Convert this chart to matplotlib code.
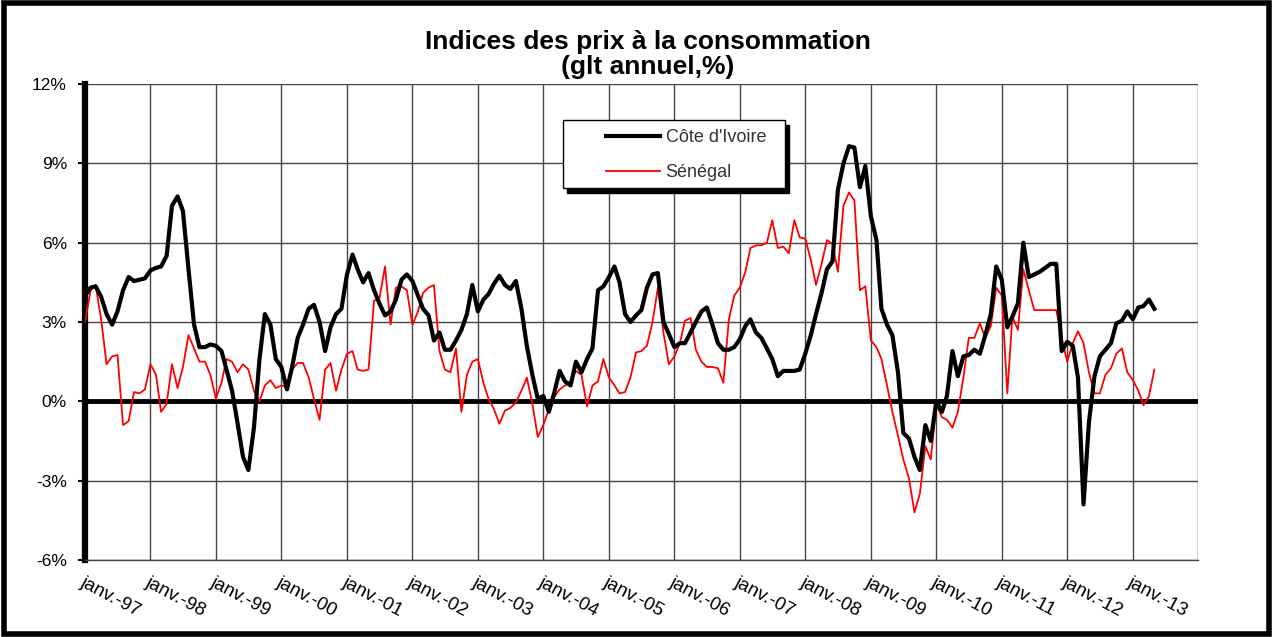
import matplotlib.pyplot as plt
from matplotlib.patches import Rectangle
import pandas as pd

plt.rcParams['font.family'] = ['Liberation Sans', 'DejaVu Sans']

# monthly year-on-year inflation (%), janv. 1997 -> mai 2013
cote_ivoire = [
    4.0, 4.3, 4.35, 3.95, 3.3, 2.9, 3.4, 4.2, 4.7, 4.55, 4.6, 4.65,       # 1997
    4.95, 5.05, 5.1, 5.5, 7.4, 7.75, 7.2, 5.0, 2.9, 2.05, 2.05, 2.15,     # 1998
    2.1, 1.9, 1.2, 0.4, -0.8, -2.1, -2.6, -1.0, 1.6, 3.3, 2.9, 1.6,       # 1999
    1.3, 0.45, 1.3, 2.4, 2.9, 3.5, 3.65, 3.0, 1.9, 2.8, 3.3, 3.5,         # 2000
    4.8, 5.55, 5.0, 4.5, 4.85, 4.2, 3.7, 3.25, 3.4, 3.85, 4.6, 4.8,       # 2001
    4.55, 4.0, 3.5, 3.25, 2.3, 2.6, 1.95, 1.95, 2.3, 2.7, 3.3, 4.4,       # 2002
    3.4, 3.85, 4.05, 4.45, 4.75, 4.4, 4.25, 4.55, 3.5, 2.1, 1.0, 0.1,     # 2003
    0.2, -0.4, 0.3, 1.15, 0.75, 0.6, 1.5, 1.1, 1.6, 2.0, 4.2, 4.35,       # 2004
    4.7, 5.1, 4.5, 3.3, 3.0, 3.25, 3.45, 4.3, 4.8, 4.85, 3.0, 2.55,       # 2005
    2.05, 2.2, 2.2, 2.6, 3.0, 3.4, 3.55, 2.9, 2.2, 1.95, 1.95, 2.05,      # 2006
    2.35, 2.85, 3.1, 2.6, 2.4, 2.0, 1.6, 0.95, 1.15, 1.15, 1.15, 1.2,     # 2007
    1.8, 2.5, 3.3, 4.1, 5.0, 5.3, 8.0, 9.0, 9.65, 9.6, 8.1, 8.9,          # 2008
    7.0, 6.1, 3.5, 2.9, 2.5, 1.1, -1.2, -1.4, -2.1, -2.6, -0.9, -1.5,     # 2009
    0.0, -0.4, 0.2, 1.9, 0.95, 1.7, 1.75, 1.95, 1.8, 2.5, 3.3, 5.1,       # 2010
    4.6, 2.8, 3.2, 3.7, 6.0, 4.7, 4.8, 4.9, 5.05, 5.2, 5.2, 1.9,          # 2011
    2.25, 2.1, 0.9, -3.9, -0.8, 0.95, 1.7, 1.95, 2.2, 2.95, 3.05, 3.4,    # 2012
    3.1, 3.55, 3.6, 3.85, 3.5,                                            # 2013
]
senegal = [
    3.0, 4.2, 4.4, 3.1, 1.4, 1.7, 1.75, -0.9, -0.75, 0.35, 0.3, 0.45,     # 1997
    1.4, 1.0, -0.4, -0.1, 1.4, 0.5, 1.3, 2.5, 2.0, 1.5, 1.5, 1.0,         # 1998
    0.1, 0.7, 1.6, 1.5, 1.1, 1.4, 1.2, 0.4, 0.0, 0.6, 0.8, 0.5,           # 1999
    0.6, 0.55, 1.2, 1.45, 1.45, 0.9, 0.1, -0.7, 1.2, 1.45, 0.4, 1.2,      # 2000
    1.8, 1.9, 1.2, 1.15, 1.2, 3.8, 3.9, 5.1, 2.9, 4.3, 4.35, 4.2,         # 2001
    2.9, 3.4, 4.1, 4.3, 4.4, 1.9, 1.2, 1.1, 2.0, -0.4, 1.0, 1.5,          # 2002
    1.6, 0.7, 0.1, -0.3, -0.85, -0.35, -0.25, -0.05, 0.4, 0.9, -0.1, -1.35,  # 2003
    -0.9, -0.3, 0.15, 0.45, 0.6, 0.75, 1.15, 1.0, -0.2, 0.6, 0.75, 1.6,   # 2004
    0.9, 0.6, 0.3, 0.35, 0.9, 1.85, 1.9, 2.1, 3.0, 4.3, 2.6, 1.4,         # 2005
    1.7, 2.2, 3.05, 3.15, 1.95, 1.5, 1.3, 1.3, 1.25, 0.7, 3.1, 4.0,       # 2006
    4.3, 4.9, 5.8, 5.9, 5.9, 6.0, 6.85, 5.8, 5.85, 5.6, 6.85, 6.2,        # 2007
    6.15, 5.35, 4.4, 5.2, 6.1, 5.95, 4.9, 7.4, 7.9, 7.6, 4.2, 4.35,       # 2008
    2.3, 2.05, 1.6, 0.6, -0.4, -1.3, -2.2, -2.9, -4.2, -3.5, -1.7, -2.2,  # 2009
    -0.1, -0.6, -0.7, -1.0, -0.4, 0.9, 2.4, 2.4, 2.95, 2.4, 2.85, 4.3,    # 2010
    4.0, 0.3, 3.2, 2.7, 5.0, 4.2, 3.45, 3.45, 3.45, 3.45, 3.45, 2.4,      # 2011
    1.5, 2.2, 2.65, 2.2, 1.1, 0.3, 0.3, 1.0, 1.25, 1.8, 2.0, 1.1,         # 2012
    0.8, 0.4, -0.15, 0.2, 1.2,                                            # 2013
]
dates = pd.date_range('1997-01-01', periods=len(cote_ivoire), freq='MS')
years = list(range(1997, 2015))
tick_labels = ['janv.-%02d' % (y % 100) for y in years[:-1]] + ['']
y_ticks = [-6, -3, 0, 3, 6, 9, 12]

fig = plt.figure(figsize=(12.73, 6.37), dpi=100)
ax = fig.add_axes([0.0668, 0.121, 0.8745, 0.747])

sen_line, = ax.plot(dates, senegal, color='#ff0000', lw=1.3, label='Sénégal', zorder=4)
ci_line, = ax.plot(dates, cote_ivoire, color='black', lw=3.0, label="Côte d'Ivoire", zorder=5)
ax.axhline(0, color='black', lw=3.5, zorder=3)

ax.set_xlim(pd.Timestamp('1997-01-01'), pd.Timestamp('2014-01-01'))
ax.set_ylim(-6, 12)
ax.set_yticks(y_ticks)
ax.set_yticklabels(['%d%%' % v for v in y_ticks], fontsize=12.5)
ax.set_xticks([pd.Timestamp('%d-01-01' % y) for y in years])
ax.set_xticklabels(tick_labels, rotation=-28, ha='left', va='top',
                   rotation_mode='anchor', fontsize=13.5)
ax.tick_params(axis='x', length=0, pad=10)
ax.tick_params(axis='y', length=5, width=1.5, direction='out', pad=8)
ax.grid(True, color='#444444', lw=1.0, zorder=1)

for side in ['top', 'right']:
    ax.spines[side].set_visible(False)
ax.spines['left'].set_linewidth(4.5)
ax.spines['bottom'].set_linewidth(1.0)
ax.spines['bottom'].set_color('#444444')

# legend box with a black drop shadow
ax.add_patch(Rectangle((0.4331, 0.771), 0.1995, 0.143, transform=ax.transAxes,
                       facecolor='black', edgecolor='black', zorder=8, clip_on=False))
ax.add_patch(Rectangle((0.4295, 0.7815), 0.1995, 0.143, transform=ax.transAxes,
                       facecolor='white', edgecolor='black', lw=1.0, zorder=9, clip_on=False))
leg = ax.legend(handles=[ci_line, sen_line],
                loc='upper left', bbox_to_anchor=(0.468, 0.905),
                frameon=False, fontsize=13, handlelength=3.0, labelspacing=1.0,
                borderpad=0, handletextpad=0.3, borderaxespad=0)
leg.set_zorder(10)
for t in leg.get_texts():
    t.set_color('#333333')

fig.text(0.509, 0.914, 'Indices des prix à la consommation\n(glt annuel,%)',
         ha='center', va='center', fontsize=19, fontweight='bold', linespacing=1.05)

fig.patches.append(Rectangle((0.003, 0.005), 0.994, 0.99, transform=fig.transFigure,
                             fill=False, edgecolor='black', lw=4))

fig.savefig('out.png', dpi=100)
